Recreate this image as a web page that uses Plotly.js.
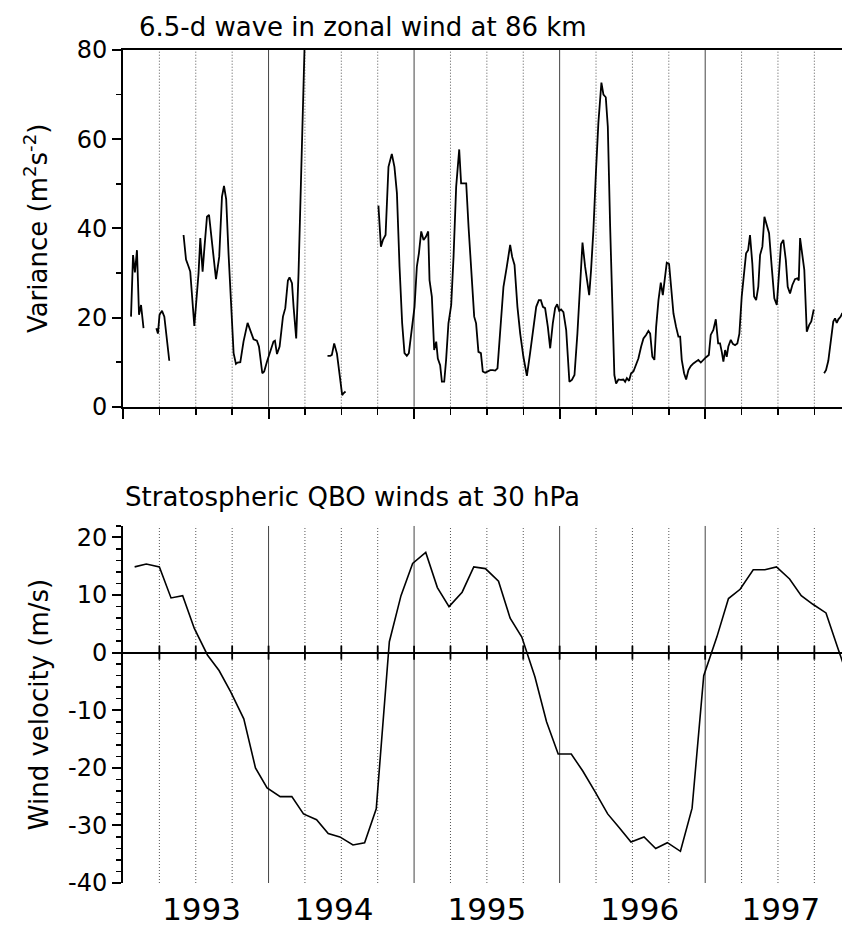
<!DOCTYPE html>
<html><head><meta charset="utf-8">
<script src="https://cdn.plot.ly/plotly-3.0.1.min.js"></script>
<style>html,body{margin:0;padding:0;background:#fff}#chart{width:842px;height:928px}</style>
</head><body><div id="chart"></div>
<script>
// 6.5-d wave variance at 86 km (m^2 s^-2); null = data gap
const varYear = [
1993.055,1993.069,1993.082,1993.096,1993.110,1993.124,1993.141,null,
1993.229,1993.240,1993.251,1993.268,1993.284,1993.318,null,
1993.416,1993.433,1993.451,1993.462,1993.490,1993.508,1993.519,1993.531,1993.547,1993.560,
1993.577,1993.591,1993.613,1993.639,1993.661,1993.680,1993.694,1993.709,1993.725,1993.744,
1993.760,1993.776,1993.787,1993.806,1993.828,1993.856,1993.879,1993.897,1993.920,1993.934,
1993.957,1993.970,1993.989,1994.012,1994.034,1994.044,1994.058,1994.076,1994.099,1994.115,
1994.133,1994.144,1994.161,1994.172,1994.190,1994.206,1994.225,1994.240,1994.259,null,
1994.405,1994.424,1994.435,1994.451,1994.470,1994.488,1994.497,1994.506,1994.515,1994.529,null,
1994.755,1994.772,1994.786,1994.804,1994.824,1994.847,1994.865,1994.882,1994.900,1994.918,
1994.934,1994.950,1994.964,1994.985,1995.003,1995.019,1995.033,1995.049,1995.065,1995.081,
1995.097,1995.106,1995.122,1995.138,1995.152,1995.163,1995.179,1995.191,1995.207,1995.220,
1995.236,1995.255,1995.271,1995.289,1995.310,1995.323,1995.344,1995.358,1995.374,1995.397,
1995.413,1995.426,1995.442,1995.459,1995.472,1995.488,1995.504,1995.523,1995.541,1995.557,
1995.573,1995.591,1995.614,1995.637,1995.660,1995.674,1995.690,1995.710,1995.729,1995.751,
1995.775,1995.797,1995.820,1995.839,1995.857,1995.871,1995.885,1995.900,1995.919,1995.935,
1995.953,1995.969,1995.983,1995.997,1996.010,1996.026,1996.045,1996.067,1996.084,1996.102,
1996.122,1996.141,1996.157,1996.175,1996.191,1996.203,1996.216,1996.232,1996.249,1996.266,
1996.287,1996.301,1996.317,1996.331,1996.347,1996.365,1996.376,1996.388,1996.404,1996.420,
1996.438,1996.450,1996.462,1996.477,1996.491,1996.507,1996.525,1996.541,1996.560,1996.576,
1996.594,1996.610,1996.622,1996.637,1996.651,1996.663,1996.679,1996.695,1996.709,1996.720,
1996.736,1996.752,1996.766,1996.782,1996.800,1996.816,1996.828,1996.839,1996.855,1996.869,
1996.885,1996.901,1996.919,1996.938,1996.953,1996.970,1996.988,1997.006,1997.025,1997.038,
1997.056,1997.073,1997.089,1997.102,1997.114,1997.125,1997.137,1997.148,1997.159,1997.176,
1997.190,1997.205,1997.221,1997.235,1997.251,1997.267,1997.281,1997.295,1997.308,1997.324,
1997.336,1997.350,1997.365,1997.377,1997.393,1997.407,1997.423,1997.439,1997.457,1997.475,
1997.492,1997.508,1997.521,1997.537,1997.554,1997.567,1997.583,1997.599,1997.617,1997.633,
1997.643,1997.652,1997.668,1997.681,1997.698,1997.714,1997.729,1997.746,null,
1997.817,1997.830,1997.846,1997.865,1997.880,1997.892,1997.904,1997.915,1997.931,1997.940,1997.961
];
const varValue = [
20.2,34.0,30.1,35.1,20.6,22.8,17.6,null,
17.6,16.4,20.6,21.5,20.2,10.3,null,
38.5,33.0,31.4,30.3,18.1,26.2,29.9,37.8,30.3,35.9,
42.6,43.0,35.9,28.6,33.6,47.1,49.5,46.5,34.4,20.9,
12.0,9.6,9.9,10.0,14.6,18.8,16.8,15.1,14.8,13.5,
7.5,7.9,10.1,12.3,14.6,14.8,11.8,13.5,20.2,22.1,
28.3,29.0,27.7,22.4,15.3,29.9,52.3,71.0,95.0,null,
11.4,11.4,11.6,14.2,11.9,7.5,4.5,2.6,3.0,3.4,null,
45.1,35.9,37.4,38.5,53.8,56.7,53.8,47.9,31.4,18.7,
12.0,11.4,12.0,17.9,22.4,31.4,34.4,39.3,37.4,38.1,
39.3,28.4,24.7,12.7,14.6,10.8,9.3,5.6,5.6,10.5,
18.7,22.8,33.6,49.3,57.7,50.1,50.1,50.1,40.4,26.9,
20.2,18.7,12.3,12.0,7.9,7.6,7.9,8.2,8.2,8.1,
8.6,17.2,26.9,31.4,36.3,33.6,31.8,22.4,16.4,11.2,
6.9,12.0,17.9,22.4,23.9,23.9,22.4,22.1,17.9,13.1,
18.7,22.1,23.0,21.5,21.8,21.2,17.2,5.6,6.0,7.1,
16.4,28.4,36.8,31.4,27.3,25.0,30.7,39.6,52.3,63.6,
72.7,70.0,69.4,62.8,40.4,16.4,7.1,5.2,6.1,6.0,
6.1,5.6,6.4,5.8,7.5,7.9,9.3,10.8,13.5,15.3,
16.1,17.0,16.4,11.2,10.5,17.9,23.9,27.8,25.0,28.4,
32.3,32.0,26.5,20.9,17.9,15.7,15.7,10.5,7.5,6.1,
8.2,9.1,9.7,10.1,10.5,9.9,10.6,11.1,11.6,16.1,
17.2,19.6,14.2,14.2,12.3,10.1,12.7,11.2,13.5,15.0,
14.1,13.8,14.2,16.4,24.7,29.9,34.4,35.1,38.5,32.1,
24.7,23.9,26.9,34.0,35.9,42.6,40.7,38.9,31.4,24.3,
22.8,29.2,36.5,37.4,32.9,26.9,25.4,27.3,28.6,28.8,
28.3,37.8,33.3,30.7,16.8,18.3,19.1,21.8,null,
7.5,8.2,10.3,15.7,19.1,19.8,18.8,19.6,20.2,20.9,21.3
];

// Monthly stratospheric QBO winds at 30 hPa (m/s)
const qboYear = [
1993.08,1993.16,1993.25,1993.33,1993.41,1993.49,1993.58,1993.66,1993.74,1993.83,1993.91,1993.99,
1994.08,1994.16,1994.24,1994.33,1994.41,1994.49,1994.58,1994.66,1994.74,1994.83,1994.91,1994.99,
1995.08,1995.16,1995.24,1995.33,1995.41,1995.49,1995.58,1995.66,1995.74,1995.83,1995.91,1995.99,
1996.08,1996.16,1996.24,1996.33,1996.41,1996.49,1996.58,1996.66,1996.74,1996.83,1996.91,1996.99,
1997.08,1997.16,1997.24,1997.33,1997.41,1997.49,1997.58,1997.66,1997.74,1997.83,1997.91,1997.99
];
const qboWind = [
14.9,15.4,14.9,9.5,9.9,4.2,-0.4,-3.1,-6.8,-11.5,-20.0,-23.5,
-25.0,-25.0,-28.0,-29.0,-31.4,-32.0,-33.4,-33.0,-27.1,1.9,9.9,15.5,
17.4,11.3,8.0,10.5,14.9,14.6,12.4,6.0,2.7,-4.2,-12.0,-17.6,
-17.6,-20.6,-24.0,-28.0,-30.4,-32.9,-32.0,-34.0,-33.0,-34.5,-27.0,-4.0,
2.7,9.4,11.0,14.4,14.4,14.9,12.8,9.9,8.4,6.9,0.9,-5.0
];

const yearLabels = ['1993','1994','1995','1996','1997'];
const yearLabelAt = [1993.54, 1994.45, 1995.50, 1996.55, 1997.52];
const windTicks = [-40, -30, -20, -10, 0, 10, 20];
const windTickText = ['-40', '-30', '-20', '-10', '0', '10', '20'];

const FONT = 'DejaVu Sans, Liberation Sans, Arial, sans-serif';
const xRange = [1993, 1997.94];

// quarter-year reference lines
const quarterLines = [];
for (let k = 1; 1993 + k * 0.25 < xRange[1]; k++) quarterLines.push(1993 + k * 0.25);
const shapes = [];
quarterLines.forEach(q => {
  const isYear = Math.abs(q - Math.round(q)) < 1e-9;
  [['x', 'y domain'], ['x2', 'y2 domain']].forEach(([xr, yr]) => {
    shapes.push({
      type: 'line', xref: xr, yref: yr, x0: q, x1: q, y0: 0, y1: 1, layer: 'below',
      line: { color: isYear ? '#444' : '#555', width: 1, dash: isYear ? 'solid' : '1px,2px' }
    });
  });
});

const traces = [
  { x: varYear, y: varValue, type: 'scatter', mode: 'lines', xaxis: 'x', yaxis: 'y',
    connectgaps: false, line: { color: '#000', width: 1.8 }, hoverinfo: 'skip' },
  { x: qboYear, y: qboWind, type: 'scatter', mode: 'lines', xaxis: 'x2', yaxis: 'y2',
    line: { color: '#000', width: 1.6 }, hoverinfo: 'skip' },
  { x: quarterLines, y: quarterLines.map(() => 0), type: 'scatter', mode: 'markers',
    xaxis: 'x2', yaxis: 'y2', hoverinfo: 'skip',
    marker: { symbol: 'line-ns-open', size: 10, color: '#000', line: { color: '#000', width: 1.8 } } }
];

const tickFont = { family: FONT, size: 24, color: '#000' };
const layout = {
  width: 842, height: 928,
  margin: { l: 123, r: 0, t: 50, b: 45 },
  paper_bgcolor: '#fff', plot_bgcolor: '#fff',
  showlegend: false,
  font: { family: FONT, color: '#000' },
  shapes: shapes,
  xaxis: {
    anchor: 'y', range: xRange, tickmode: 'linear', tick0: 1993, dtick: 1,
    ticks: 'outside', ticklen: 10, tickwidth: 2, tickcolor: '#000',
    showticklabels: false, showline: true, linewidth: 2, linecolor: '#000', mirror: true,
    showgrid: false, zeroline: false,
    minor: { tick0: 1993, dtick: 0.25, ticks: 'outside', ticklen: 6, tickwidth: 1.5, tickcolor: '#000', showgrid: false }
  },
  yaxis: {
    domain: [0.5718, 1], range: [0, 80], tickmode: 'linear', tick0: 0, dtick: 20,
    ticks: 'outside', ticklen: 9, tickwidth: 2, tickcolor: '#000',
    showline: true, linewidth: 2, linecolor: '#000', showgrid: false, zeroline: false,
    tickfont: tickFont,
    minor: { dtick: 10, ticks: 'outside', ticklen: 5, tickwidth: 1.5, tickcolor: '#000', showgrid: false },
    title: { text: 'Variance (m<sup>2</sup>s<sup>-2</sup>)', font: { family: FONT, size: 26, color: '#000' }, standoff: 22 },
    automargin: false
  },
  xaxis2: {
    anchor: 'y2', range: xRange, tickmode: 'array', tickvals: yearLabelAt, ticktext: yearLabels,
    ticks: '', showline: false, showgrid: false, zeroline: false, ticklabelstandoff: 5,
    tickfont: { family: FONT, size: 31, color: '#000' }, automargin: false
  },
  yaxis2: {
    domain: [0, 0.4286], range: [-40, 22], tickmode: 'array', tickvals: windTicks, ticktext: windTickText,
    ticks: 'outside', ticklen: 9, tickwidth: 2, tickcolor: '#000',
    showline: true, linewidth: 2, linecolor: '#000', showgrid: false,
    zeroline: true, zerolinecolor: '#000', zerolinewidth: 2,
    tickfont: tickFont,
    minor: { tick0: 0, dtick: 2, ticks: 'outside', ticklen: 5, tickwidth: 1.5, tickcolor: '#000', showgrid: false },
    title: { text: 'Wind velocity (m/s)', font: { family: FONT, size: 26, color: '#000' }, standoff: 12 },
    automargin: false
  },
  annotations: [
    { text: '6.5-d wave in zonal wind at 86 km', xref: 'paper', yref: 'paper', x: 0.019, y: 1.028,
      xanchor: 'left', yanchor: 'middle', showarrow: false, font: { family: FONT, size: 26, color: '#000' } },
    { text: 'Stratospheric QBO winds at 30 hPa', xref: 'paper', yref: 'paper', x: 0.0, y: 0.4628,
      xanchor: 'left', yanchor: 'middle', showarrow: false, font: { family: FONT, size: 26, color: '#000' } }
  ]
};

Plotly.newPlot('chart', traces, layout, { staticPlot: true, displayModeBar: false });
</script></body></html>
